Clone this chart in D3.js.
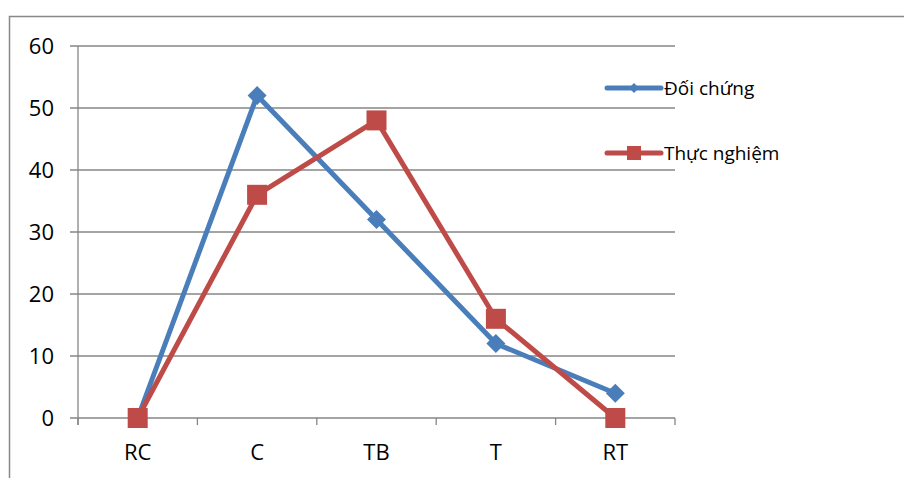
<!DOCTYPE html>
<html><head><meta charset="utf-8">
<script src="https://cdn.jsdelivr.net/npm/d3@7"></script>
<style>body{margin:0;background:#fff}svg{display:block}text{font-family:"Open Sans","Liberation Sans",sans-serif}</style>
</head><body><svg id="c" width="904" height="478"></svg>
<script>
const categories = ["RC","C","TB","T","RT"];
const seriesNames = ["Đối chứng","Thực nghiệm"];
const doiChung = [0,52,32,12,4];
const thucNghiem = [0,36,48,16,0];
const yTicks = [0,10,20,30,40,50,60];
const colors = ["#4a7ebb","#be4b48"];

const svg = d3.select("#c");
const m = {l:78, r:675, t:46, b:418};
// outer frame
svg.append("path").attr("d","M9.5,478 V16.5 H904").attr("fill","none").attr("stroke","#888").attr("stroke-width",1.5);

const x = d3.scaleBand().domain(categories).range([m.l,m.r]);
const y = d3.scaleLinear().domain([0,60]).range([m.b,m.t]);

// gridlines
svg.append("g").selectAll("line").data(yTicks).join("line")
  .attr("x1",70).attr("x2",m.r).attr("y1",d=>y(d)).attr("y2",d=>y(d))
  .attr("stroke","#868686").attr("stroke-width",1.3);
// y axis line
svg.append("line").attr("x1",m.l).attr("x2",m.l).attr("y1",m.t).attr("y2",425).attr("stroke","#868686").attr("stroke-width",1.3);
// x ticks
const xt = categories.map((c,i)=>x(c)+x.bandwidth()).concat([m.l]);
svg.append("g").selectAll("line").data(xt).join("line")
  .attr("x1",d=>d).attr("x2",d=>d).attr("y1",m.b).attr("y2",425)
  .attr("stroke","#868686").attr("stroke-width",1.3);
// y labels
svg.append("g").selectAll("text").data(yTicks).join("text")
  .attr("x",54).attr("y",d=>y(d)).attr("dy","0.36em").attr("text-anchor","end")
  .attr("font-size",22).attr("fill","#000").text(d=>d);
// x labels
svg.append("g").selectAll("text").data(categories).join("text")
  .attr("x",d=>x(d)+x.bandwidth()/2).attr("y",460).attr("text-anchor","middle")
  .attr("font-size",22).attr("fill","#000").text(d=>d);

const line = d3.line().x((d,i)=>x(categories[i])+x.bandwidth()/2).y(d=>y(d));
const data = [doiChung, thucNghiem];
data.forEach((s,k)=>{
  svg.append("path").attr("d",line(s)).attr("fill","none").attr("stroke",colors[k])
    .attr("stroke-width",5).attr("stroke-linejoin","round");
});
const diamond = r => `M0,${-r}L${r},0L0,${r}L${-r},0Z`;
function marker(g,k,cx,cy,s){
  if(k===0){
    g.append("path").attr("d",diamond(s)).attr("transform",`translate(${cx},${cy})`).attr("fill",colors[0]);
  } else {
    g.append("rect").attr("x",cx-s/2).attr("y",cy-s/2).attr("width",s).attr("height",s).attr("fill",colors[1]);
  }
}
data.forEach((s,k)=>{
  const g = svg.append("g");
  s.forEach((v,i)=>marker(g,k,x(categories[i])+x.bandwidth()/2,y(v),k===0?9.5:20));
});
// legend
const ly = [88,153];
seriesNames.forEach((n,k)=>{
  svg.append("line").attr("x1",607).attr("x2",661).attr("y1",ly[k]).attr("y2",ly[k]).attr("stroke",colors[k]).attr("stroke-width",5).attr("stroke-linecap","round");
  marker(svg.append("g"),k,634,ly[k],k===0?5:14);
  svg.append("text").attr("x",664).attr("y",ly[k]).attr("dy","0.36em").attr("font-size",19).attr("fill","#000").text(n);
});
</script></body></html>
